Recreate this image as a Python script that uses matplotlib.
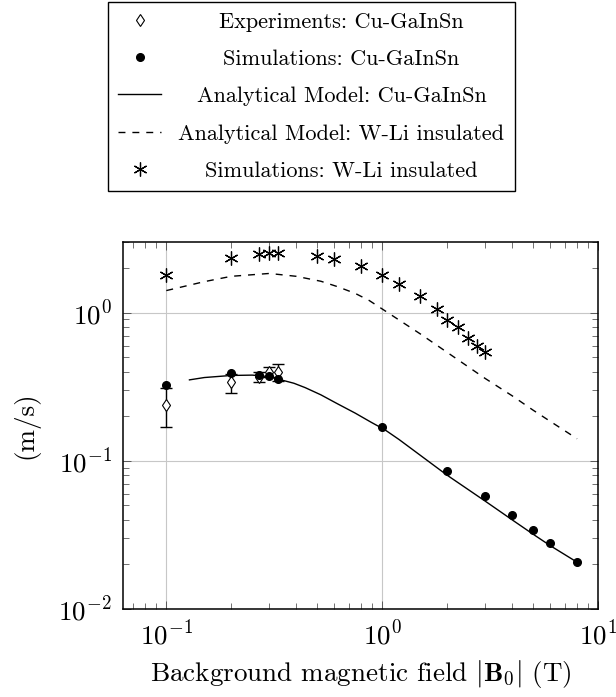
import matplotlib
matplotlib.use("Agg")
import matplotlib.pyplot as plt
from matplotlib.ticker import LogLocator, NullFormatter

plt.rcParams['font.family'] = 'serif'
plt.rcParams['font.serif'] = ['cmr10']
plt.rcParams['mathtext.fontset'] = 'cm'
plt.rcParams['axes.formatter.use_mathtext'] = True
plt.rcParams['axes.unicode_minus'] = False

# Experiments: Cu-GaInSn
exp_B = [0.1, 0.2, 0.27, 0.3, 0.33]
exp_v = [0.239, 0.338, 0.368, 0.40, 0.40]
exp_err = [0.07, 0.05, 0.027, 0.03, 0.053]

# Simulations: Cu-GaInSn
sim_cu_B = [0.1, 0.2, 0.27, 0.3, 0.33, 1.0, 2.0, 3.0, 4.0, 5.0, 6.0, 8.0]
sim_cu_v = [0.326, 0.39, 0.377, 0.371, 0.356, 0.168, 0.086, 0.0577, 0.043, 0.0343, 0.028, 0.0207]

# Analytical Model: Cu-GaInSn
ana_cu_B = [0.128, 0.15, 0.2, 0.25, 0.3, 0.34, 0.39, 0.44, 0.52, 0.62, 0.75, 0.89, 1.03, 1.2,
            2.0, 3.0, 4.0, 5.0, 6.0, 8.0]
ana_cu_v = [0.352, 0.365, 0.377, 0.379, 0.370, 0.352, 0.334, 0.312, 0.279, 0.243, 0.210, 0.182, 0.162, 0.139,
            0.080, 0.0535, 0.040, 0.032, 0.0268, 0.0207]

# Analytical Model: W-Li insulated
ana_wli_B = [0.1, 0.15, 0.2, 0.3, 0.4, 0.52, 0.62, 0.75, 0.87, 1.0, 1.5, 2.0, 3.0, 4.0, 5.0, 6.0, 8.0]
ana_wli_v = [1.41, 1.62, 1.76, 1.84, 1.76, 1.63, 1.50, 1.35, 1.21, 1.06, 0.72, 0.54, 0.36, 0.275, 0.22, 0.185, 0.141]

# Simulations: W-Li insulated
sim_wli_B = [0.1, 0.2, 0.27, 0.3, 0.33, 0.5, 0.6, 0.8, 1.0, 1.2, 1.5, 1.8, 2.0, 2.25, 2.5, 2.75, 3.0]
sim_wli_v = [1.81, 2.34, 2.49, 2.51, 2.51, 2.43, 2.31, 2.06, 1.80, 1.56, 1.29, 1.06, 0.893, 0.796, 0.675, 0.592, 0.539]

labels = ["Experiments: Cu-GaInSn", "Simulations: Cu-GaInSn",
          "Analytical Model: Cu-GaInSn", "Analytical Model: W-Li insulated",
          "Simulations: W-Li insulated"]

fig = plt.figure(figsize=(6.16, 6.97), dpi=100)
ax = fig.add_axes([123/616, 1-609/697, (598-123)/616, (609-242)/697])

ax.errorbar(exp_B, exp_v, yerr=exp_err, fmt='none', ecolor='black', elinewidth=1.0,
            capsize=4, capthick=1.0, zorder=3)
h1, = ax.plot(exp_B, exp_v, linestyle='none', marker='d', markersize=6,
              markerfacecolor='white', markeredgecolor='black', markeredgewidth=0.8, zorder=4)
h2, = ax.plot(sim_cu_B, sim_cu_v, linestyle='none', marker='o', markersize=5.5,
              color='black', zorder=5)
h3, = ax.plot(ana_cu_B, ana_cu_v, '-', color='black', linewidth=1.0, zorder=2)
h4, = ax.plot(ana_wli_B, ana_wli_v, linestyle=(0, (5, 5)), color='black', linewidth=1.0, zorder=2)
h5, = ax.plot(sim_wli_B, sim_wli_v, linestyle='none', marker=(6, 2, 0), markersize=10,
              color='black', markeredgewidth=0.9, zorder=4)

ax.set_xscale('log')
ax.set_yscale('log')
ax.set_xlim(0.063, 10)
ax.set_ylim(0.01, 3.0)
ax.xaxis.set_major_locator(LogLocator(base=10, numticks=10))
ax.yaxis.set_major_locator(LogLocator(base=10, numticks=10))
ax.xaxis.set_minor_locator(LogLocator(base=10, subs=range(2, 10), numticks=20))
ax.yaxis.set_minor_locator(LogLocator(base=10, subs=range(2, 10), numticks=20))
ax.xaxis.set_minor_formatter(NullFormatter())
ax.yaxis.set_minor_formatter(NullFormatter())

ax.grid(True, which='major', color='0.78', linewidth=0.8)
ax.set_axisbelow(True)
ax.tick_params(which='both', direction='in', top=True, right=True, color='0.35')
ax.tick_params(which='major', length=6, width=0.7, labelsize=19.5, pad=8)
ax.tick_params(which='minor', length=4, width=0.6)
for s in ax.spines.values():
    s.set_linewidth(1.1)

ax.set_xlabel(r"Background magnetic field $|\mathbf{B}_0|$ (T)", fontsize=19.5, labelpad=6)
ax.set_ylabel("(m/s)", fontsize=19.5, labelpad=14)

leg = fig.legend([h1, h2, h3, h4, h5], labels, loc='upper center',
                 bbox_to_anchor=(311.5/616, 1-2/697), fontsize=16, frameon=True,
                 fancybox=False, edgecolor='black', framealpha=1, handlelength=1.9,
                 handletextpad=0.8, labelspacing=0.8, borderpad=0.45, borderaxespad=0)
leg.get_frame().set_linewidth(1.0)

fig.canvas.draw()
renderer = fig.canvas.get_renderer()
widths = [t.get_window_extent(renderer).width for t in leg.get_texts()]
W = max(widths)
for t, w in zip(leg.get_texts(), widths):
    t.set_position(((W - w) / 2, 0))

fig.savefig("out.png", dpi=100)
